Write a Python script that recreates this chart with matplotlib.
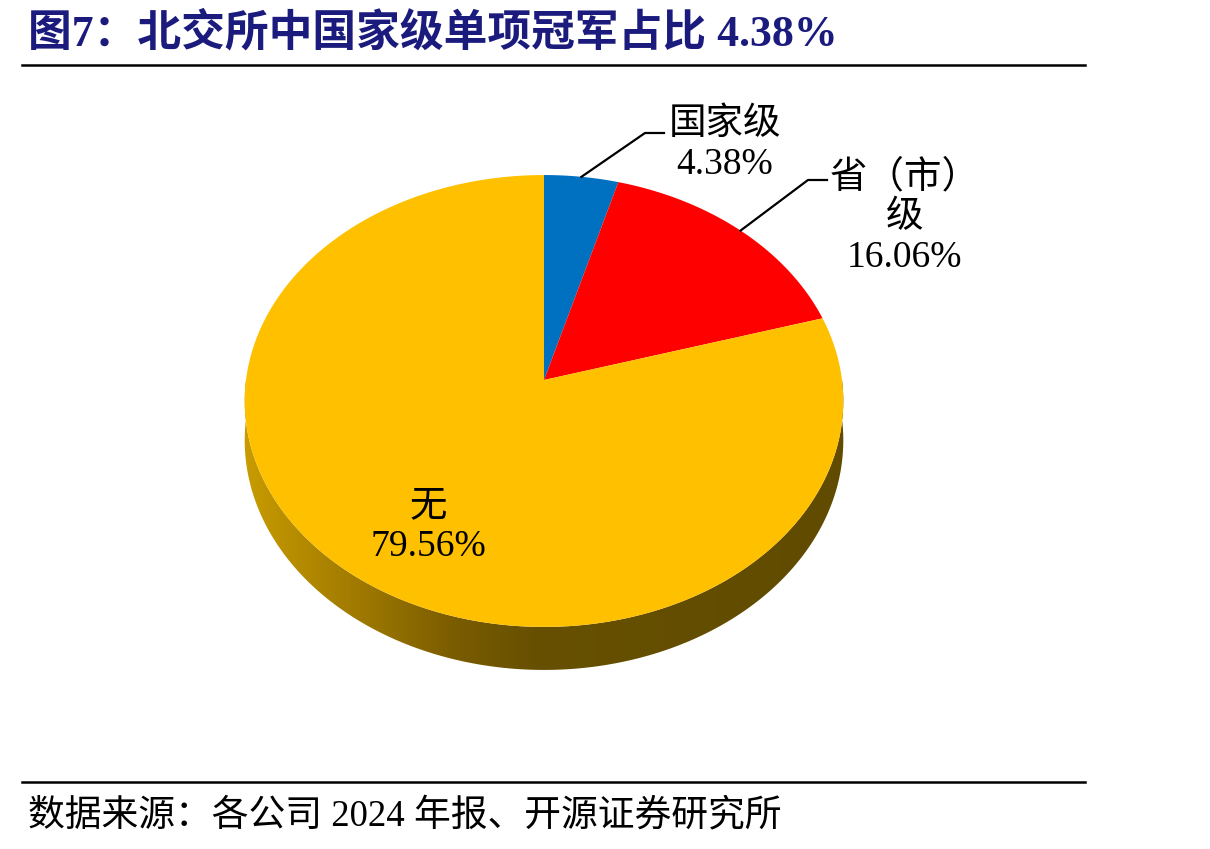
import numpy as np
import matplotlib.pyplot as plt
from matplotlib.patches import Polygon
from matplotlib.colors import LinearSegmentedColormap

labels = ['国家级', '省（市）\n级', '无']
values = [4.38, 16.06, 79.56]
colors = ['#0070C0', '#FF0000', '#FFC000']
title = '图7：北交所中国家级单项冠军占比 4.38%'
source = '数据来源：各公司 2024 年报、开源证券研究所'

serif = ['Liberation Serif', 'Noto Sans CJK SC']

# perspective pie geometry (pixels)
cx, cy = 544, 380
R, A, k, H = 298, 188.7, -0.0929, 39


def proj(phi, drop=0.0):
    s = np.sin(phi)
    t = -np.cos(phi)
    d = 1 + k * t
    return cx + R * s / d, (A * t + cy + drop) / d


fig = plt.figure(figsize=(12.1, 8.49), dpi=100)
ax = fig.add_axes([0, 0, 1, 1])
ax.set_xlim(0, 1210)
ax.set_ylim(849, 0)
ax.axis('off')

# side wall
ph = np.linspace(np.pi / 2, 3 * np.pi / 2, 200)
tx, ty = proj(ph)
bx, by = proj(ph[::-1], H)
side = Polygon(np.column_stack([np.r_[tx, bx], np.r_[ty, by]]), closed=True,
               facecolor='none', edgecolor='none')
ax.add_patch(side)
cmap = LinearSegmentedColormap.from_list(
    'side', [(0, '#C89B00'), (0.15, '#A88000'), (0.35, '#7A5C00'),
             (0.48, '#675000'), (1, '#604B00')])
grad = np.linspace(0, 1, 300).reshape(1, -1)
im = ax.imshow(grad, cmap=cmap, extent=[244, 846, 690, 370], aspect='auto',
               zorder=1)
im.set_clip_path(side)

# top face slices
frac = np.array(values) / sum(values)
edges = np.r_[0, np.cumsum(frac)] * 2 * np.pi
for i in range(len(values)):
    a = np.linspace(edges[i], edges[i + 1], 200)
    px, py = proj(a)
    pts = np.column_stack([np.r_[cx, px], np.r_[cy, py]])
    ax.add_patch(Polygon(pts, closed=True, facecolor=colors[i],
                         edgecolor='none', zorder=2))

# labels
lab_pos = [(725, 145), (905, 217), (428, 527)]
elbows = [[(645, 133), (664, 133)], [(808, 180), (827, 180)], None]
for i in range(len(values)):
    txt = labels[i] + '\n' + f'{values[i]:.2f}%'
    ax.text(lab_pos[i][0], lab_pos[i][1], txt, ha='center', va='center',
            multialignment='center', family=serif, fontsize=27,
            linespacing=1.2, zorder=4)
    if elbows[i]:
        mid = (edges[i] + edges[i + 1]) / 2
        sx, sy = proj(mid)
        xs = [sx] + [p[0] for p in elbows[i]]
        ys = [sy] + [p[1] for p in elbows[i]]
        ax.plot(xs, ys, color='black', lw=1.6, zorder=3)

# title, rules and source
ax.text(28, 33, title, ha='left', va='center', family=serif, fontsize=31.5,
        fontweight='bold', color='#1B1B7E')
ax.plot([22, 1085], [65, 65], color='black', lw=1.8)
ax.plot([22, 1085], [782, 782], color='black', lw=1.8)
ax.text(28, 817, source, ha='left', va='center', family=serif, fontsize=26.5,
        color='black')

fig.savefig('out.png', dpi=100)
